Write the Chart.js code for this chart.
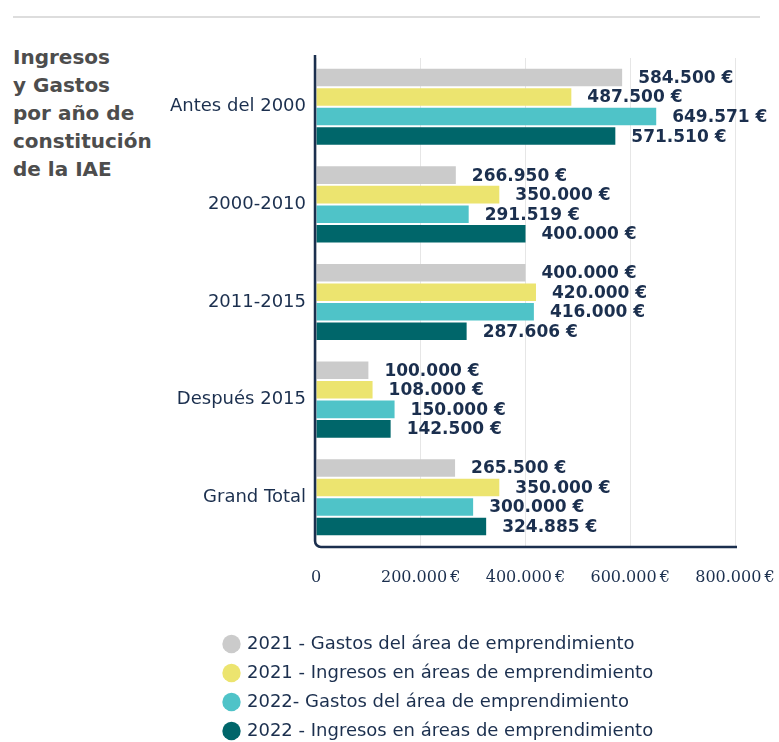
<!DOCTYPE html>
<html>
<head>
<meta charset="utf-8">
<script src="https://cdn.jsdelivr.net/npm/chart.js@4"></script>
<style>
  html, body { margin: 0; padding: 0; background: #fff; overflow: hidden; }
  #wrap { position: relative; width: 779px; height: 742px; overflow: hidden; }
  #rule { position: absolute; left: 13px; top: 16px; width: 747px; height: 2px; background: #dddddd; }
  #title {
    position: absolute; left: 13px; top: 43px;
    font-family: "DejaVu Sans", sans-serif; font-weight: bold;
    font-size: 20px; line-height: 28px; color: #4d4d4d;
  }
  canvas { position: absolute; left: 0; top: 0; }
</style>
</head>
<body>
<div id="wrap">
  <div id="rule"></div>
  <div id="title">Ingresos<br>y Gastos<br>por año de<br>constitución<br>de la IAE</div>
  <canvas id="chart" width="779" height="750"></canvas>
</div>
<script>
const categories = ['Antes del 2000', '2000-2010', '2011-2015', 'Después 2015', 'Grand Total'];
const gastos2021 = [584500, 266950, 400000, 100000, 265500];
const ingresos2021 = [487500, 350000, 420000, 108000, 350000];
const gastos2022 = [649571, 291519, 416000, 150000, 300000];
const ingresos2022 = [571510, 400000, 287606, 142500, 324885];
const xTicks = [0, 200000, 400000, 600000, 800000];

const navy = '#1b2f4e';

function euro(v) {
    return String(v).replace(/\B(?=(\d{3})+(?!\d))/g, '.') + ' €';
}

// value labels at the end of every bar
const valueLabels = {
    id: 'valueLabels',
    afterDatasetsDraw(chart) {
        const ctx = chart.ctx;
        ctx.save();
        ctx.font = 'bold 17px "DejaVu Sans"';
        ctx.fillStyle = navy;
        ctx.textBaseline = 'middle';
        ctx.textAlign = 'left';
        chart.data.datasets.forEach((ds, i) => {
            chart.getDatasetMeta(i).data.forEach((bar, j) => {
                ctx.fillText(euro(ds.data[j]), bar.x + 16, bar.y + 1);
            });
        });
        ctx.restore();
    }
};

// left + bottom axis with a rounded corner
const axisFrame = {
    id: 'axisFrame',
    afterDraw(chart) {
        const a = chart.chartArea;
        const ctx = chart.ctx;
        const r = 6;
        ctx.save();
        ctx.strokeStyle = navy;
        ctx.lineWidth = 2.5;
        ctx.beginPath();
        ctx.moveTo(a.left - 1, a.top - 3);
        ctx.lineTo(a.left - 1, a.bottom - r);
        ctx.arcTo(a.left - 1, a.bottom + 1, a.left - 1 + r, a.bottom + 1, r);
        ctx.lineTo(a.right + 2, a.bottom + 1);
        ctx.stroke();
        ctx.restore();
    }
};

// legend sits under the chart, indented
const legendShift = {
    id: 'legendShift',
    afterLayout(chart) {
        chart.legend.left = 214;
    }
};

new Chart(document.getElementById('chart'), {
    type: 'bar',
    data: {
        labels: categories,
        datasets: [{
            label: '2021 - Gastos del área de emprendimiento',
            data: gastos2021,
            backgroundColor: '#cbcbcb',
        }, {
            label: '2021 - Ingresos en áreas de emprendimiento',
            data: ingresos2021,
            backgroundColor: '#ece46f',
        }, {
            label: '2022- Gastos del área de emprendimiento',
            data: gastos2022,
            backgroundColor: '#4fc3c8',
        }, {
            label: '2022 - Ingresos en áreas de emprendimiento',
            data: ingresos2022,
            backgroundColor: '#00666a',
        }],
    },
    options: {
        indexAxis: 'y',
        responsive: false,
        animation: false,
        layout: {
            padding: { top: 58, left: 0, right: 44, bottom: 0 }
        },
        plugins: {
            tooltip: { enabled: false },
            legend: {
                position: 'bottom',
                align: 'start',
                labels: {
                    usePointStyle: true,
                    pointStyle: 'circle',
                    boxHeight: 13,
                    boxWidth: 13,
                    padding: 11,
                    color: navy,
                    font: { family: 'DejaVu Sans', size: 18 }
                }
            }
        },
        scales: {
            x: {
                min: 0,
                max: 800000,
                afterBuildTicks(scale) {
                    scale.ticks = xTicks.map(v => ({ value: v }));
                },
                afterFit(scale) {
                    scale.height = 78;
                    scale.paddingLeft = 0;
                    scale.paddingRight = 0;
                },
                border: { display: false },
                grid: { color: '#e6e6e6', drawTicks: false },
                ticks: {
                    padding: 22,
                    color: navy,
                    font: { family: 'DejaVu Serif', size: 16 },
                    callback: v => v === 0 ? '0' : euro(v).replace(' €', '\u202f€')
                }
            },
            y: {
                afterFit(scale) { scale.width = 316; },
                border: { display: false },
                grid: { display: false, drawTicks: false },
                ticks: {
                    padding: 10,
                    color: navy,
                    font: { family: 'DejaVu Sans', size: 18 }
                }
            }
        }
    },
    plugins: [valueLabels, axisFrame, legendShift]
});
</script>
</body>
</html>
